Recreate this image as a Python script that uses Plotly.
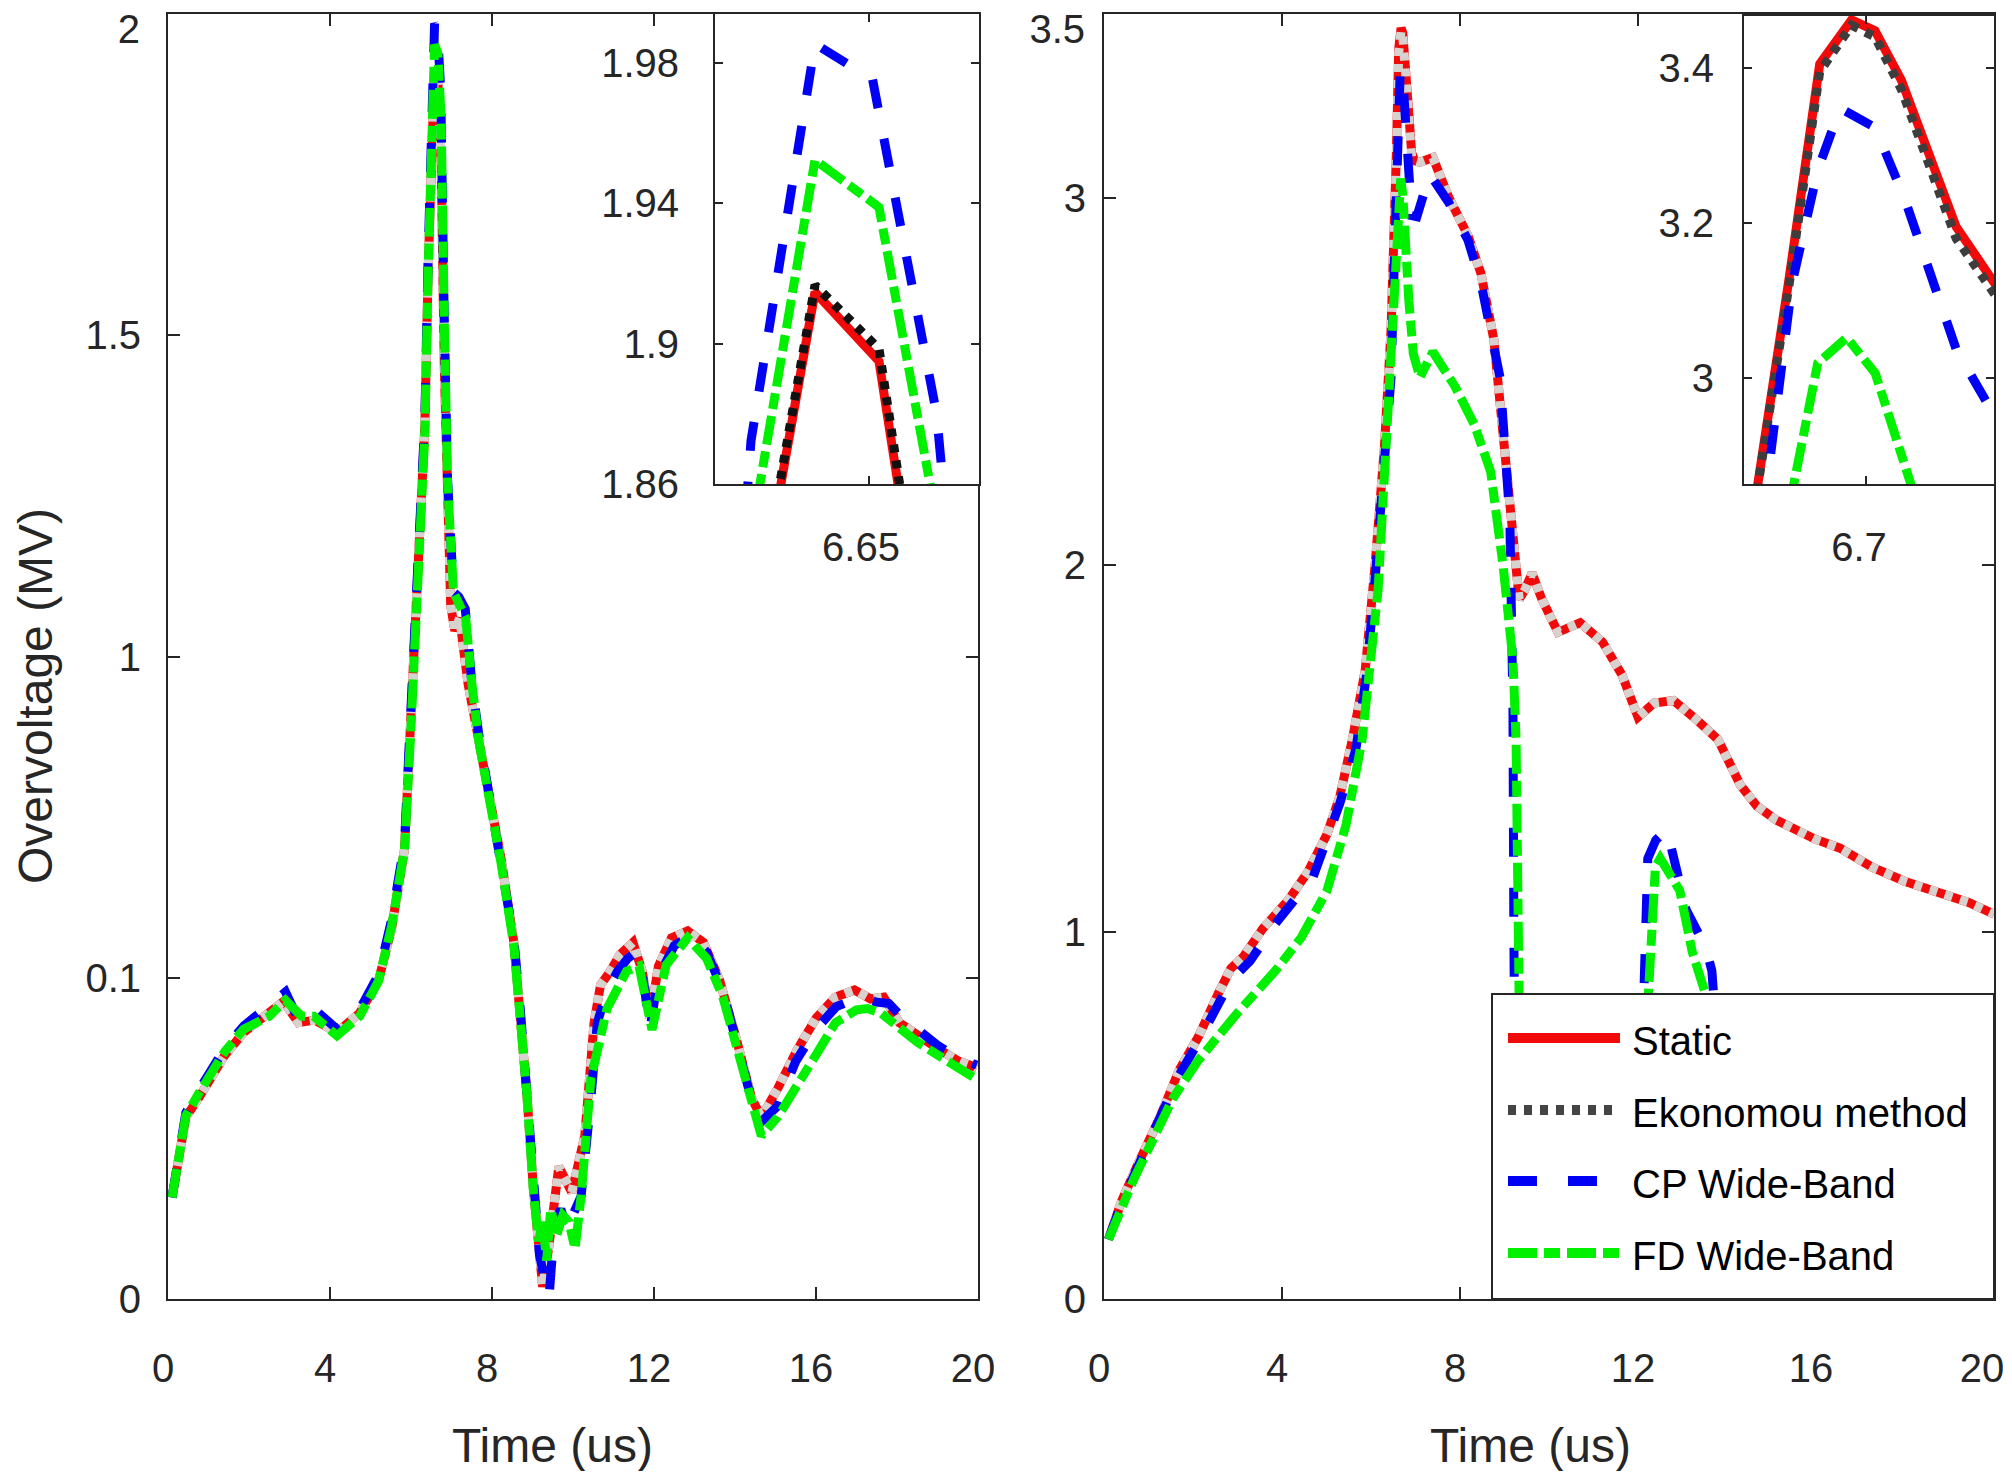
import plotly.graph_objects as go

# ---- left panel (first case) ----
t_l_static = [0.1, 0.44, 0.76, 1.4, 1.87, 2.5, 2.85, 3.22, 3.62, 4.17, 4.73, 5.2, 5.52, 5.84, 6.0, 6.15,
              6.3425, 6.4225, 6.5025, 6.5825, 6.6625, 6.7425, 6.8225, 6.9025, 6.98, 7.08, 7.2, 7.41, 7.67,
              7.9, 8.22, 8.54, 8.7, 8.86, 9.02, 9.17, 9.25, 9.4, 9.65, 9.97, 10.29, 10.52, 10.68, 10.92,
              11.16, 11.48, 11.71, 11.9, 12.11, 12.43, 12.83, 13.22, 13.62, 14.02, 14.41, 14.65, 15.05,
              15.52, 16.0, 16.48, 16.95, 17.35, 17.67, 18.06, 18.54, 19.0, 19.5, 19.97]
v_l_static = [0.158, 0.283, 0.313, 0.379, 0.415, 0.445, 0.463, 0.43, 0.434, 0.415, 0.445, 0.496, 0.577, 0.70,
              0.90, 1.10, 1.36, 1.60, 1.812, 1.9147, 1.895, 1.777, 1.45, 1.18, 1.08, 1.04, 1.06, 0.957, 0.87,
              0.797, 0.687, 0.555, 0.445, 0.32, 0.173, 0.063, 0.019, 0.08, 0.206, 0.166, 0.254, 0.43, 0.489,
              0.51, 0.536, 0.555, 0.51, 0.437, 0.518, 0.562, 0.573, 0.555, 0.496, 0.408, 0.3125, 0.283,
              0.327, 0.386, 0.437, 0.47, 0.481, 0.467, 0.47, 0.43, 0.408, 0.39, 0.371, 0.36]
v_l_ekon = [0.158, 0.283, 0.313, 0.379, 0.415, 0.445, 0.463, 0.43, 0.434, 0.415, 0.445, 0.496, 0.577, 0.70,
            0.90, 1.10, 1.36, 1.60, 1.814, 1.9167, 1.8985, 1.779, 1.45, 1.18, 1.08, 1.04, 1.06, 0.957, 0.87,
            0.797, 0.687, 0.555, 0.445, 0.32, 0.173, 0.063, 0.019, 0.08, 0.206, 0.166, 0.254, 0.43, 0.489,
            0.51, 0.536, 0.555, 0.51, 0.437, 0.518, 0.562, 0.573, 0.555, 0.496, 0.408, 0.3125, 0.283,
            0.327, 0.386, 0.437, 0.47, 0.481, 0.467, 0.47, 0.43, 0.408, 0.39, 0.371, 0.36]

t_l_cp = [0.1, 0.44, 0.76, 1.4, 1.87, 2.5, 2.9, 3.22, 3.6, 4.17, 4.73, 5.2, 5.52, 5.84, 6.0, 6.15, 6.3425,
          6.4225, 6.5025, 6.5825, 6.6545, 6.7345, 6.8145, 6.9, 7.05, 7.18, 7.34, 7.5, 7.67, 7.9, 8.22, 8.54,
          8.7, 8.86, 9.02, 9.17, 9.3, 9.41, 9.55, 9.7, 9.85, 10.0, 10.2, 10.44, 10.6, 10.84, 11.1, 11.35,
          11.56, 11.75, 11.9, 12.1, 12.5, 12.9, 13.3, 13.7, 14.1, 14.45, 14.65, 15.05, 15.5, 16.0, 16.5,
          17.1, 17.5, 17.8, 18.1, 18.6, 19.0, 19.5, 19.97]
v_l_cp = [0.158, 0.29, 0.325, 0.39, 0.425, 0.455, 0.478, 0.435, 0.452, 0.42, 0.45, 0.505, 0.59, 0.71, 0.90,
          1.10, 1.37, 1.62, 1.8723, 1.9855, 1.9753, 1.880, 1.55, 1.28, 1.10, 1.093, 1.074, 0.96, 0.88, 0.80,
          0.69, 0.56, 0.45, 0.33, 0.18, 0.07, 0.03, 0.004, 0.12, 0.14, 0.11, 0.13, 0.16, 0.31, 0.43, 0.48,
          0.51, 0.53, 0.54, 0.49, 0.42, 0.50, 0.55, 0.566, 0.54, 0.48, 0.39, 0.30, 0.276, 0.30, 0.37, 0.42,
          0.455, 0.47, 0.462, 0.46, 0.44, 0.415, 0.395, 0.375, 0.364]

t_l_fd = [0.1, 0.44, 0.76, 1.4, 1.87, 2.5, 2.9, 3.3, 3.6, 4.17, 4.73, 5.2, 5.52, 5.84, 6.0, 6.15, 6.3425,
          6.4225, 6.5025, 6.5825, 6.6625, 6.7425, 6.8225, 6.9025, 7.05, 7.2, 7.35, 7.5, 7.67, 7.9, 8.22,
          8.54, 8.7, 8.86, 9.02, 9.15, 9.25, 9.35, 9.45, 9.6, 9.75, 9.9, 10.05, 10.2, 10.44, 10.84, 11.32,
          11.63, 11.95, 12.3, 12.83, 13.3, 13.7, 14.1, 14.45, 14.65, 15.05, 15.52, 16.0, 16.48, 17.0,
          17.27, 17.6, 18.0, 18.5, 19.0, 19.5, 19.97]
v_l_fd = [0.158, 0.285, 0.32, 0.385, 0.42, 0.44, 0.465, 0.44, 0.44, 0.41, 0.44, 0.495, 0.58, 0.70, 0.89,
          1.09, 1.35, 1.60, 1.845, 1.9524, 1.9389, 1.840, 1.52, 1.27, 1.10, 1.08, 1.06, 0.96, 0.87, 0.79,
          0.68, 0.55, 0.44, 0.32, 0.17, 0.09, 0.12, 0.06, 0.14, 0.10, 0.13, 0.12, 0.078, 0.16, 0.342, 0.452,
          0.51, 0.518, 0.419, 0.52, 0.562, 0.53, 0.47, 0.38, 0.29, 0.254, 0.283, 0.334, 0.38, 0.43, 0.45,
          0.452, 0.445, 0.425, 0.40, 0.38, 0.36, 0.342]

# ---- right panel (second case) ----
t_r_static = [0.1, 0.39, 0.76, 1.26, 1.69, 2.12, 2.56, 2.85, 3.13, 3.57, 4.14, 4.58, 5.01, 5.3, 5.58, 5.87,
              6.09, 6.3, 6.45, 6.52, 6.572, 6.623, 6.676, 6.715, 6.759, 6.85, 6.914, 6.98, 7.1, 7.39, 7.75,
              8.18, 8.47, 8.76, 9.04, 9.19, 9.33, 9.45, 9.62, 9.84, 10.2, 10.7, 11.2, 11.64, 12.0, 12.36,
              12.8, 13.37, 13.8, 14.3, 14.67, 15.1, 15.97, 16.54, 17.26, 17.99, 18.7, 19.43, 20.0]
v_r_static = [0.162, 0.265, 0.367, 0.496, 0.624, 0.714, 0.83, 0.90, 0.932, 1.009, 1.086, 1.163, 1.266,
              1.369, 1.523, 1.713, 1.996, 2.318, 2.639, 2.863, 3.128, 3.405, 3.462, 3.448, 3.384, 3.195,
              3.122, 3.10, 3.096, 3.109, 3.0, 2.896, 2.794, 2.614, 2.253, 2.06, 1.906, 1.93, 1.977, 1.906,
              1.816, 1.842, 1.79, 1.70, 1.585, 1.623, 1.63, 1.572, 1.523, 1.40, 1.343, 1.305, 1.253, 1.228,
              1.176, 1.138, 1.112, 1.08, 1.048]
v_r_ekon = [0.162, 0.265, 0.367, 0.496, 0.624, 0.714, 0.83, 0.90, 0.932, 1.009, 1.086, 1.163, 1.266,
            1.369, 1.523, 1.713, 1.996, 2.318, 2.639, 2.86, 3.12, 3.395, 3.455, 3.44, 3.372, 3.18,
            3.108, 3.10, 3.096, 3.109, 3.0, 2.896, 2.794, 2.614, 2.253, 2.06, 1.906, 1.93, 1.977, 1.906,
            1.816, 1.842, 1.79, 1.70, 1.585, 1.623, 1.63, 1.572, 1.523, 1.40, 1.343, 1.305, 1.253, 1.228,
            1.176, 1.138, 1.112, 1.08, 1.048]

t_r_cp = [0.1, 0.39, 0.76, 1.26, 1.69, 2.12, 2.56, 2.85, 3.28, 3.85, 4.3, 4.7, 5.01, 5.3, 5.66, 5.9, 6.09,
          6.3, 6.45, 6.5395, 6.577, 6.6197, 6.657, 6.7153, 6.764, 6.85, 6.9137, 7.03, 7.32, 7.75, 8.18,
          8.47, 8.9, 9.12, 9.19, 9.21, 9.24, 9.5, 10.0, 11.0, 11.8, 12.1, 12.22, 12.4, 12.65, 13.08, 13.52,
          13.66, 13.9, 14.5, 15.5, 16.5, 17.5, 18.5, 19.5, 20.0]
v_r_cp = [0.162, 0.26, 0.36, 0.49, 0.61, 0.70, 0.80, 0.868, 0.92, 1.022, 1.09, 1.15, 1.253, 1.35, 1.497,
          1.70, 1.958, 2.25, 2.51, 2.89, 3.122, 3.268, 3.348, 3.323, 3.232, 3.037, 2.951, 2.948, 3.064,
          2.986, 2.884, 2.768, 2.51, 2.125, 1.61, 1.0, 0.5, 0.3, 0.35, 0.3, 0.4, 0.7, 1.2, 1.25, 1.279,
          1.061, 0.958, 0.894, 0.5, 0.3, 0.35, 0.3, 0.35, 0.3, 0.3, 0.3]

t_r_fd = [0.1, 0.68, 1.55, 2.12, 2.99, 3.85, 4.43, 5.01, 5.44, 5.8, 6.16, 6.38, 6.5, 6.56, 6.6197, 6.668,
          6.7153, 6.78, 6.85, 6.95, 7.1, 7.39, 7.89, 8.32, 8.69, 8.97, 9.19, 9.26, 9.3, 9.36, 9.5, 10.5,
          11.5, 12.1, 12.22, 12.39, 12.5, 12.94, 13.22, 13.52, 13.8, 14.5, 15.3, 16.0, 16.6, 17.5, 18.5,
          19.5, 20.0]
v_r_fd = [0.162, 0.329, 0.547, 0.65, 0.778, 0.894, 0.984, 1.112, 1.292, 1.523, 1.932, 2.42, 2.65, 2.785,
          3.019, 3.052, 3.006, 2.85, 2.72, 2.575, 2.51, 2.58, 2.485, 2.382, 2.253, 1.996, 1.74, 1.523, 1.0,
          0.5, 0.2, 0.15, 0.2, 0.4, 0.8, 1.176, 1.2, 1.112, 0.945, 0.83, 0.5, 0.15, 0.05, -0.03, 0.05,
          0.1, 0.12, 0.15, 0.169]

legend_names = ['Static', 'Ekonomou method', 'CP Wide-Band', 'FD Wide-Band']
left_y_ticks = [0, 0.5, 1, 1.5]
left_y_labels = ['0', '0.1', '1', '1.5']
left_y_top = [2]
right_y_ticks = [0, 1, 2, 3]
right_y_labels = ['0', '1', '2', '3']
right_y_top = [3.5]
x_ticks = [0, 4, 8, 12, 16, 20]
x_ticks_inner = [0, 4, 8, 12, 16]
x_ticks_end = [20]
inset_l_ticks = [1.86, 1.9, 1.94, 1.98]
inset_r_ticks = [3, 3.2, 3.4]

# the page body keeps its 8px margin, so the figure is 16px smaller than the window
PAD = 8
FW, FH = 2012 - 2 * PAD, 1479 - 2 * PAD
RED = '#f00a0a'
BLUE = '#0000f5'
GREEN = '#00f000'
AXC = '#262626'
FONT = 'Liberation Sans, Arial, sans-serif'
LW = 9
DOT = '8px,8px'
DASH = '29px,31px'
DASHDOT = '29px,7px,16px,7px'


def px_x(p):
    # window pixel -> paper fraction
    return (p - PAD) / FW


def px_y(p):
    return 1 - (p - PAD) / FH


def add_set(fig, xa, ya, xa_top, ya_top, t_s, v_s, v_e, t_c, v_c, t_f, v_f, ekon_color):
    fig.add_trace(go.Scatter(x=t_s, y=v_s, mode='lines', xaxis=xa, yaxis=ya,
                             line=dict(color=RED, width=LW)))
    fig.add_trace(go.Scatter(x=t_s, y=v_e, mode='lines', xaxis=xa, yaxis=ya,
                             line=dict(color=ekon_color, width=LW, dash=DOT)))
    fig.add_trace(go.Scatter(x=t_c, y=v_c, mode='lines', xaxis=xa, yaxis=ya,
                             line=dict(color=BLUE, width=LW, dash=DASH)))
    fig.add_trace(go.Scatter(x=t_f, y=v_f, mode='lines', xaxis=xa_top, yaxis=ya_top,
                             line=dict(color=GREEN, width=LW, dash=DASHDOT)))


def axis(domain, rng, tickvals, ticktext=None, standoff=10, ticklen=12, anchor=None, shift=0):
    d = dict(range=rng, tickmode='array', tickvals=tickvals, automargin=False,
             showline=True, linecolor=AXC, linewidth=2, mirror='ticks',
             ticks='inside', ticklen=ticklen, tickwidth=2, tickcolor=AXC,
             showgrid=False, zeroline=False, ticklabelstandoff=standoff, ticklabelshift=shift,
             tickfont=dict(size=40, color=AXC, family=FONT))
    if domain is not None:
        d['domain'] = domain
    if ticktext is not None:
        d['ticktext'] = ticktext
    if anchor is not None:
        d['anchor'] = anchor
    return d


def end_label_axis(base, anchor, side, rng, tickvals, standoff, shift):
    # carries only the label at the end of an axis, nudged inwards as in the original
    return dict(overlaying=base, anchor=anchor, side=side, range=rng, tickmode='array',
                tickvals=tickvals, showline=False, ticks='', showgrid=False, zeroline=False,
                automargin=False, ticklabelstandoff=standoff, ticklabelshift=shift,
                ticklabeloverflow='allow', tickfont=dict(size=40, color=AXC, family=FONT))


fig = go.Figure()
add_set(fig, 'x', 'y', 'x', 'y5',
        t_l_static, v_l_static, v_l_ekon, t_l_cp, v_l_cp, t_l_fd, v_l_fd, '#d8d2ce')
add_set(fig, 'x2', 'y2', 'x5', 'y6',
        t_r_static, v_r_static, v_r_ekon, t_r_cp, v_r_cp, t_r_fd, v_r_fd, '#d8d2ce')
add_set(fig, 'x3', 'y3', 'x3', 'y3',
        t_l_static, v_l_static, v_l_ekon, t_l_cp, v_l_cp, t_l_fd, v_l_fd, '#111111')
add_set(fig, 'x4', 'y4', 'x4', 'y4',
        t_r_static, v_r_static, v_r_ekon, t_r_cp, v_r_cp, t_r_fd, v_r_fd, '#3d3d3d')

main_y = [px_y(1299), px_y(14)]
inset_y = [px_y(484), px_y(14)]

fig.update_layout(
    template='none',
    width=FW, height=FH,
    margin=dict(l=0, r=0, t=0, b=0, autoexpand=False),
    paper_bgcolor='white', plot_bgcolor='white',
    showlegend=False,
    font=dict(family=FONT, color=AXC, size=40),
    xaxis=axis([px_x(168), px_x(978)], [0, 20], x_ticks, standoff=33, anchor='y', shift=-5),
    yaxis=axis(main_y, [0, 2], left_y_ticks + left_y_top, left_y_labels + [''], standoff=17, anchor='x'),
    yaxis5=end_label_axis('y', 'x', 'left', [0, 2], left_y_top, 27, 15),
    xaxis2=axis([px_x(1104), px_x(1994)], [0, 20], x_ticks, [str(v) for v in x_ticks_inner] + [''],
                standoff=33, anchor='y2', shift=-5),
    xaxis5=end_label_axis('x2', 'y2', 'bottom', [0, 20], x_ticks_end, 42, -12),
    yaxis2=axis(main_y, [0, 3.5], right_y_ticks + right_y_top, right_y_labels + [''], standoff=8,
                anchor='x2'),
    yaxis6=end_label_axis('y2', 'x2', 'left', [0, 3.5], right_y_top, 18, 15),
    xaxis3=axis([px_x(715), px_x(979)], [6.4575, 6.7875], [6.65], standoff=27, ticklen=8, anchor='y3',
                shift=-8),
    yaxis3=axis(inset_y, [1.86, 1.994], inset_l_ticks, standoff=26, ticklen=8, anchor='x3'),
    xaxis4=axis([px_x(1744), px_x(1994)], [6.497, 6.913], [6.7], standoff=27, ticklen=8, anchor='y4',
                shift=-7),
    yaxis4=axis([px_y(484), px_y(16)], [2.863, 3.467], inset_r_ticks, standoff=20, ticklen=8, anchor='x4'),
)

# axis titles
fig.add_annotation(x=px_x(35), y=px_y(696), xref='paper', yref='paper', text='Overvoltage (MV)',
                   textangle=-90, showarrow=False, font=dict(size=48), xanchor='center', yanchor='middle')
fig.add_annotation(x=px_x(552), y=px_y(1445), xref='paper', yref='paper', text='Time (us)',
                   showarrow=False, font=dict(size=48), xanchor='center', yanchor='middle')
fig.add_annotation(x=px_x(1530), y=px_y(1445), xref='paper', yref='paper', text='Time (us)',
                   showarrow=False, font=dict(size=48), xanchor='center', yanchor='middle')

# legend box drawn in the lower right of the second panel
fig.add_shape(type='rect', xref='paper', yref='paper', x0=px_x(1492), x1=px_x(1994),
              y0=px_y(1299), y1=px_y(994), fillcolor='white', line=dict(color=AXC, width=2), layer='above')
legend_rows = [1038, 1110, 1181, 1253]
legend_styles = [(RED, None), ('#444444', DOT), (BLUE, DASH), (GREEN, DASHDOT)]
for name, row, (col, dash) in zip(legend_names, legend_rows, legend_styles):
    fig.add_shape(type='line', xref='paper', yref='paper', x0=px_x(1508), x1=px_x(1620),
                  y0=px_y(row), y1=px_y(row), line=dict(color=col, width=10, dash=dash), layer='above')
    fig.add_annotation(x=px_x(1630), y=px_y(row + 3), xref='paper', yref='paper', text=name,
                       showarrow=False, font=dict(size=40, color='black'), xanchor='left', yanchor='middle')

fig.write_html('out.html')
